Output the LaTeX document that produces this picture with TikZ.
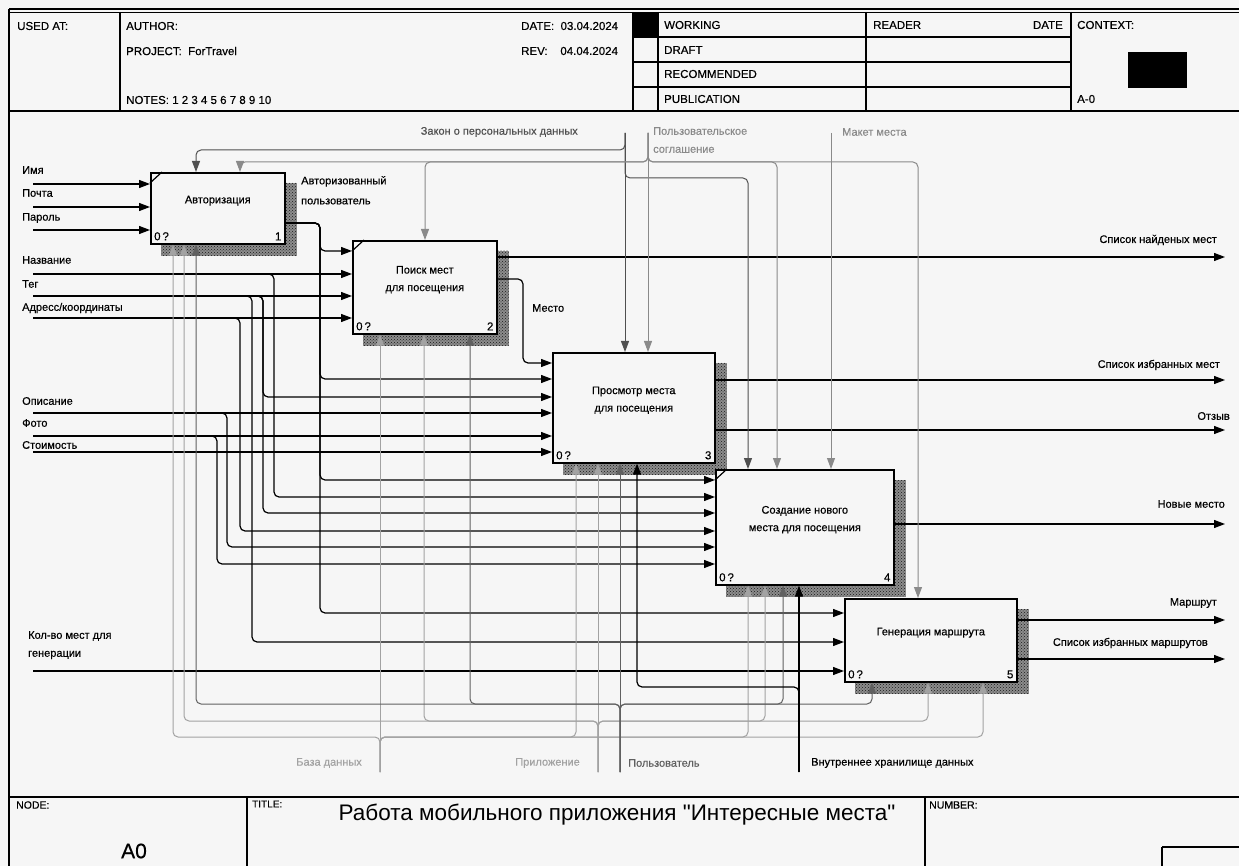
\documentclass[tikz,border=0pt]{standalone}
\usepackage{fontspec}
\setmainfont{Liberation Sans}[FakeBold=0.4]
\newfontfamily\titlefont{Liberation Sans}[Ligatures=TeXOff]
\usetikzlibrary{positioning}
\usetikzlibrary{arrows.meta}
\usetikzlibrary{calc}
\usetikzlibrary{backgrounds}
\usetikzlibrary{patterns}

\definecolor{paper}{HTML}{F6F6F6}
\definecolor{lawgray}{HTML}{505050}
\definecolor{agrgray}{HTML}{8A8A8A}
\definecolor{dbgray}{HTML}{A2A2A2}
\definecolor{usrgray}{HTML}{606060}

\begin{document}
\begin{tikzpicture}[x=1pt, y=-1pt,
  fn/.style={draw, line width=1.6pt, fill=paper, anchor=north west, align=center, text depth=17.5pt,
    font=\fontsize{11}{17.5}\selectfont, label={[corner, anchor=south west]south west:0\,?}},
  corner/.style={font=\fontsize{11.5}{13}\selectfont, inner sep=4pt},
  lbl/.style={font=\fontsize{11}{13}\selectfont, inner sep=0},
  hdr/.style={font=\fontsize{11.5}{13}\selectfont, inner sep=0, anchor=west},
  arr/.style={line width=1.2pt, -{Triangle[length=11pt, width=8pt]}, rounded corners=5pt},
  ctl/.style={arr, line width=1pt},
  hatch/.style={fill=black!45, postaction={pattern=crosshatch dots, pattern color=black!90}}
]
\useasboundingbox (0,0) rectangle (1239,866);

% Form (header and footer)
\draw[line width=1.2pt] (9,9) -- (1239,9);
\draw[line width=1.6pt] (9,12.5) -- (1239,12.5);
\draw[line width=2.5pt] (9,9) -- (9,866);
\draw[line width=2pt] (9,111) -- (1239,111);
\draw[line width=2pt] (9,797) -- (1239,797);
\draw[line width=1.2pt] (120,12) -- (120,111) (633,12) -- (633,111) (658,12) -- (658,111)
  (866,12) -- (866,111) (1071,12) -- (1071,111);
\draw[line width=1.2pt] (633,37) -- (1071,37) (633,62) -- (1071,62) (633,87) -- (1071,87);
\fill (633,12) rectangle (658,37);
\fill (1128,52) rectangle (1187,88);
\draw[line width=1.2pt] (247,797) -- (247,866) (925,797) -- (925,866);
\draw[line width=1.2pt] (1162,847) -- (1162,870) (1162,847) -- (1245,847);

\node[hdr] at (17,26) {USED AT:};
\node[hdr] at (126,26) {AUTHOR:};
\node[hdr] at (126,51) {PROJECT:\ \ ForTravel};
\node[hdr] at (126,100) {NOTES:\ 1\ 2\ 3\ 4\ 5\ 6\ 7\ 8\ 9\ 10};
\node[hdr] at (521,26) {DATE:\ \ 03.04.2024};
\node[hdr] at (521,51) {REV:\ \ \ \ 04.04.2024};
\node[hdr] at (664,25) {WORKING};
\node[hdr] at (664,50) {DRAFT};
\node[hdr] at (664,74) {RECOMMENDED};
\node[hdr] at (664,99) {PUBLICATION};
\node[hdr] at (873,25) {READER};
\node[hdr, anchor=east] at (1063,25) {DATE};
\node[hdr] at (1077,25) {CONTEXT:};
\node[hdr] at (1077,99) {A-0};

\node[hdr, font=\fontsize{10.5}{12}\selectfont] at (16,805) {NODE:};
\node[hdr, font=\fontsize{10}{12}\selectfont] at (252,804) {TITLE:};
\node[hdr, font=\fontsize{10.5}{12}\selectfont] at (929,805) {NUMBER:};
\node[font=\fontsize{21}{24}\selectfont, inner sep=0] at (134,851) {A0};
\node[font=\titlefont\fontsize{22.5}{26}\selectfont, inner sep=0] at (617,815) {Работа мобильного приложения "Интересные места"};

% Function boxes
\node[fn, minimum width=134pt, minimum height=71pt, label={[corner, anchor=south east]south east:1}] (b1) at (150,172) {Авторизация};
\node[fn, minimum width=144pt, minimum height=93pt, label={[corner, anchor=south east]south east:2}] (b2) at (352,240) {Поиск мест\\для посещения};
\node[fn, minimum width=162pt, minimum height=110pt, label={[corner, anchor=south east]south east:3}] (b3) at (552,352) {Просмотр места\\для посещения};
\node[fn, minimum width=178pt, minimum height=115pt, label={[corner, anchor=south east]south east:4}] (b4) at (715,469) {Создание нового\\места для посещения};
\node[fn, minimum width=172pt, minimum height=83pt, label={[corner, anchor=south east]south east:5}] (b5) at (844,598) {Генерация маршрута};

% Corner ticks
\draw[line width=1.2pt] ([yshift=-11pt]b1.north west) -- ([xshift=12pt]b1.north west);
\draw[line width=1.2pt] ([yshift=-11pt]b2.north west) -- ([xshift=12pt]b2.north west);
\draw[line width=1.2pt] ([yshift=-11pt]b4.north west) -- ([xshift=12pt]b4.north west);

% Inputs
\node[lbl, anchor=west] at (22,170) {Имя};
\node[lbl, anchor=west] at (22,193) {Почта};
\node[lbl, anchor=west] at (22,218) {Пароль};
\node[lbl, anchor=west] at (22,260) {Название};
\node[lbl, anchor=west] at (22,284) {Тег};
\node[lbl, anchor=west] at (22,308) {Адресс/координаты};
\node[lbl, anchor=west] at (22,401) {Описание};
\node[lbl, anchor=west] at (22,423) {Фото};
\node[lbl, anchor=west] at (22,445) {Стоимость};
\node[lbl, anchor=north west, align=left, font=\fontsize{11}{18}\selectfont] at (28,631) {Кол-во мест для\\генерации};

\coordinate (iImya) at (33,184);
\coordinate (iPochta) at (33,207);
\coordinate (iParol) at (33,230);
\coordinate (iNazv) at (33,274);
\coordinate (iTeg) at (33,296);
\coordinate (iAdr) at (33,318);
\coordinate (iOpis) at (33,413);
\coordinate (iFoto) at (33,436);
\coordinate (iCost) at (33,452);
\coordinate (iKol) at (33,671);

\draw[arr] (iImya) -- (b1.west |- iImya);
\draw[arr] (iPochta) -- (b1.west |- iPochta);
\draw[arr] (iParol) -- (b1.west |- iParol);
\draw[arr] (iNazv) -- (b2.west |- iNazv);
\draw[arr] (iNazv) -| (274,497) -- (b4.west |- 0,497);
\draw[arr] (iTeg) -- (b2.west |- iTeg);
\draw[arr] (iTeg) -| (263,397) -- (b3.west |- 0,397);
\draw[arr] (iTeg) -| (263,513) -- (b4.west |- 0,513);
\draw[arr] (iTeg) -| (252,642) -- (b5.west |- 0,642);
\draw[arr] (iAdr) -- (b2.west |- iAdr);
\draw[arr] (iAdr) -| (240,531) -- (b4.west |- 0,531);
\draw[arr] (iOpis) -- (b3.west |- iOpis);
\draw[arr] (iOpis) -| (227,547) -- (b4.west |- 0,547);
\draw[arr] (iFoto) -- (b3.west |- iFoto);
\draw[arr] (iFoto) -| (217,564) -- (b4.west |- 0,564);
\draw[arr] (iCost) -- (b3.west |- iCost);
\draw[arr] (iKol) -- (b5.west |- iKol);

% Outputs
\node[lbl, anchor=north west, align=left, font=\fontsize{11}{20}\selectfont] at (301,176) {Авторизованный\\пользователь};
\node[lbl, anchor=west] at (532,308) {Место};
\node[lbl, anchor=east] at (1217,240) {Список найденых мест};
\node[lbl, anchor=east] at (1220,365) {Список избранных мест};
\node[lbl, anchor=east] at (1230,416) {Отзыв};
\node[lbl, anchor=east] at (1225,504) {Новые место};
\node[lbl, anchor=east] at (1217,603) {Маршрут};
\node[lbl, anchor=east] at (1208,643) {Список избранных маршрутов};

\coordinate (oFound) at (1225,257);
\coordinate (oFav) at (1225,380);
\coordinate (oRev) at (1225,430);
\coordinate (oNew) at (1225,524);
\coordinate (oRoute) at (1225,620);
\coordinate (oRoutes) at (1225,659);

\draw[arr] (b1.east |- 0,223) -| (320,251) -- (b2.west |- 0,251);
\draw[arr] (b1.east |- 0,223) -| (320,379) -- (b3.west |- 0,379);
\draw[arr] (b1.east |- 0,223) -| (320,480) -- (b4.west |- 0,480);
\draw[arr] (b1.east |- 0,223) -| (320,613) -- (b5.west |- 0,613);
\draw[arr] (b2.east |- oFound) -- (oFound);
\draw[arr] (b2.east |- 0,279) -| (523,363) -- (b3.west |- 0,363);
\draw[arr] (b3.east |- oFav) -- (oFav);
\draw[arr] (b3.east |- oRev) -- (oRev);
\draw[arr] (b4.east |- oNew) -- (oNew);
\draw[arr] (b5.east |- oRoute) -- (oRoute);
\draw[arr] (b5.east |- oRoutes) -- (oRoutes);

% Controls
\node[lbl, anchor=east, lawgray] at (578,132) {Закон о персональных данных};
\node[lbl, anchor=north west, align=left, agrgray, font=\fontsize{11}{18}\selectfont] at (653,127) {Пользовательское\\соглашение};
\node[lbl, anchor=west, agrgray] at (842,132) {Макет места};

\coordinate (cLaw) at (625,133);
\coordinate (cAgr) at (648,133);
\coordinate (cMak) at (831,133);

\draw[ctl, lawgray] (cLaw) -- (cLaw |- b3.north);
\draw[ctl, lawgray] (cLaw) |- (196,150) -- (196,0 |- b1.north);
\draw[ctl, lawgray] (cLaw) |- (748,178) -- (748,0 |- b4.north);
\draw[ctl, agrgray] (cAgr) -- (cAgr |- b3.north);
\draw[ctl, agrgray] (cAgr) |- (425,162) -- (425,0 |- b2.north);
\draw[ctl, agrgray] (cAgr) |- (240,162) -- (240,0 |- b1.north);
\draw[ctl, agrgray] (cAgr) |- (777,162) -- (777,0 |- b4.north);
\draw[ctl, agrgray] (cAgr) |- (918,162) -- (918,0 |- b5.north);
\draw[ctl, agrgray] (cMak) -- (cMak |- b4.north);

% Mechanisms
\node[lbl, anchor=east, dbgray] at (362,763) {База данных};
\node[lbl, anchor=east, dbgray] at (580,763) {Приложение};
\node[lbl, anchor=west, usrgray] at (628,763) {Пользователь};
\node[lbl, anchor=west] at (811,763) {Внутреннее хранилище данных};

\coordinate (mDB) at (380,772);
\coordinate (mApp) at (598,772);
\coordinate (mUsr) at (620,772);
\coordinate (mSto) at (799,772);

\draw[ctl, dbgray] (mDB) -- (mDB |- b2.south);
\draw[ctl, dbgray] (mDB) |- (173,737) -- (173,0 |- b1.south);
\draw[ctl, dbgray] (mDB) |- (576,737) -- (576,0 |- b3.south);
\draw[ctl, dbgray] (mDB) |- (748,737) -- (748,0 |- b4.south);
\draw[ctl, dbgray] (mDB) |- (983,737) -- (983,0 |- b5.south);
\draw[ctl, dbgray] (mApp) -- (mApp |- b3.south);
\draw[ctl, dbgray] (mApp) |- (184,721) -- (184,0 |- b1.south);
\draw[ctl, dbgray] (mApp) |- (424,721) -- (424,0 |- b2.south);
\draw[ctl, dbgray] (mApp) |- (765,721) -- (765,0 |- b4.south);
\draw[ctl, dbgray] (mApp) |- (928,721) -- (928,0 |- b5.south);
\draw[ctl, usrgray] (mUsr) -- (mUsr |- b3.south);
\draw[ctl, usrgray] (mUsr) |- (196,704) -- (196,0 |- b1.south);
\draw[ctl, usrgray] (mUsr) |- (470,704) -- (470,0 |- b2.south);
\draw[ctl, usrgray] (mUsr) |- (783,704) -- (783,0 |- b4.south);
\draw[ctl, usrgray] (mUsr) |- (872,704) -- (872,0 |- b5.south);
\draw[arr] (mSto) -- (mSto |- b4.south);
\draw[arr] (mSto) |- (637,687) -- (637,0 |- b3.south);

% Paper and box shadows
\begin{scope}[on background layer]
  \fill[paper] (0,0) rectangle (1239,866);
  \fill[hatch] ($(b1.north west)+(11,11)$) rectangle ($(b1.south east)+(11,11)$);
  \fill[hatch] ($(b2.north west)+(11,11)$) rectangle ($(b2.south east)+(11,11)$);
  \fill[hatch] ($(b3.north west)+(11,11)$) rectangle ($(b3.south east)+(11,11)$);
  \fill[hatch] ($(b4.north west)+(11,11)$) rectangle ($(b4.south east)+(11,11)$);
  \fill[hatch] ($(b5.north west)+(11,11)$) rectangle ($(b5.south east)+(11,11)$);
\end{scope}

\end{tikzpicture}
\end{document}
